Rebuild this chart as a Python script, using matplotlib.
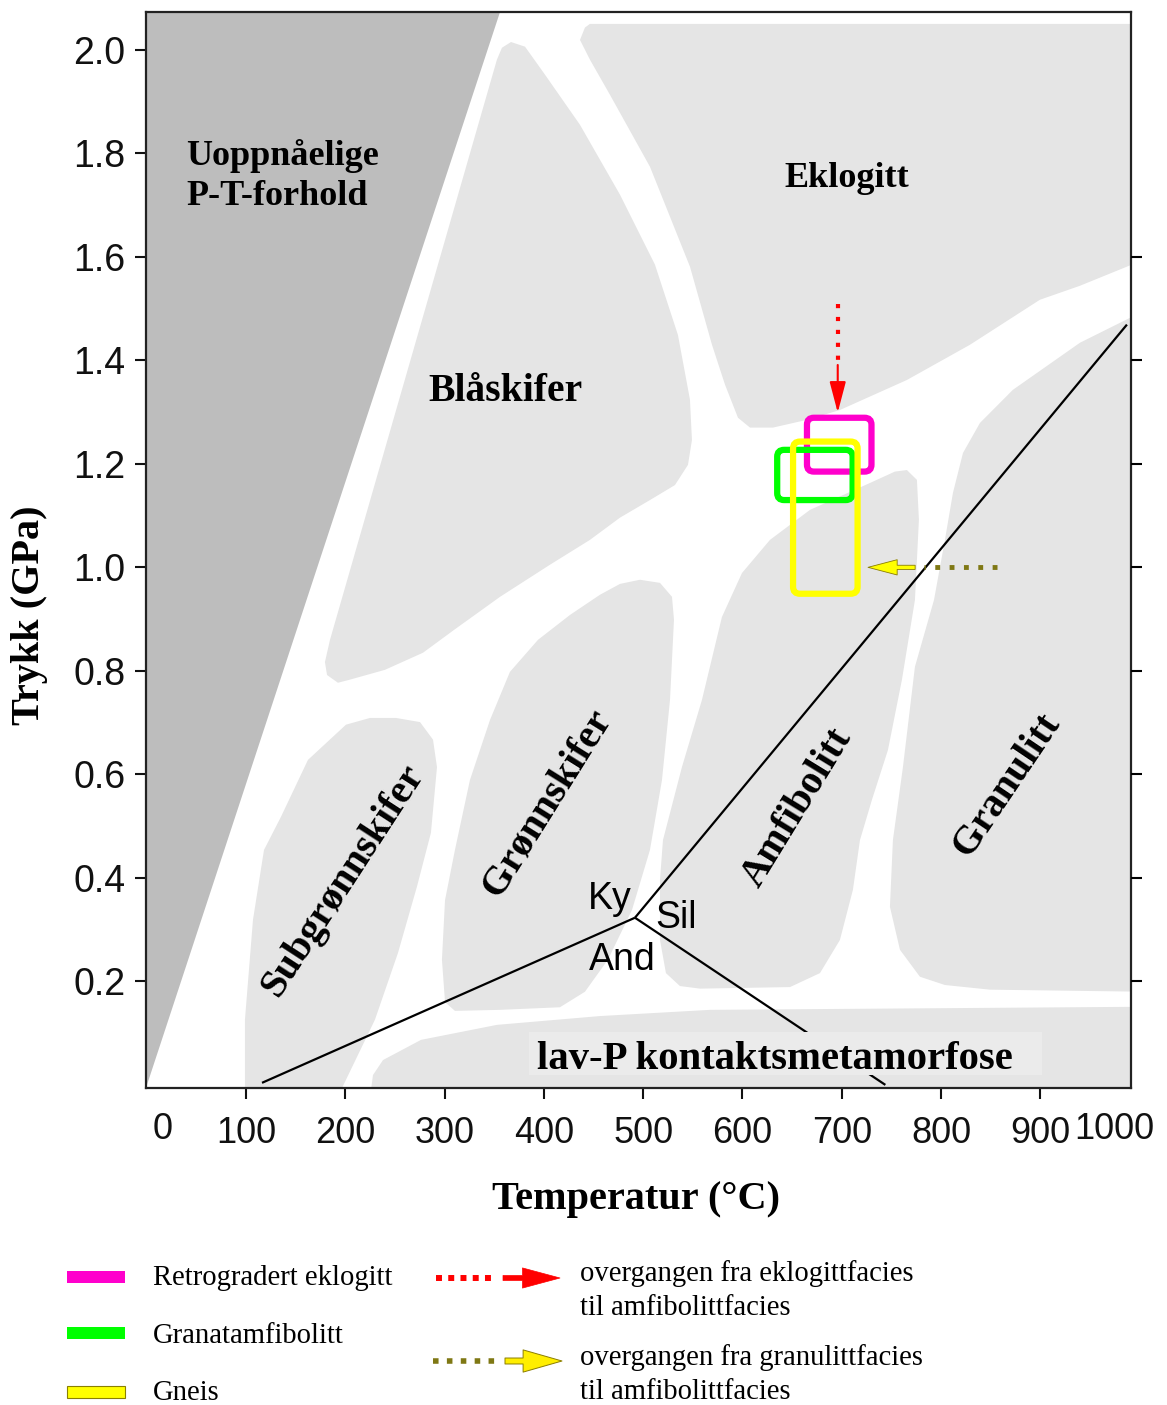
import matplotlib
matplotlib.use('Agg')
import matplotlib.pyplot as plt
from matplotlib.patches import Polygon, FancyBboxPatch, FancyArrowPatch, Rectangle, ArrowStyle

# ---- data (temperature in C, pressure in GPa) ----
temp_ticks = [100, 200, 300, 400, 500, 600, 700, 800, 900]
pressure_ticks = [0.2, 0.4, 0.6, 0.8, 1.0, 1.2, 1.4, 1.6, 1.8, 2.0]
right_ticks = [0.2, 0.4, 0.6, 0.8, 1.0, 1.2, 1.4, 1.6]

# unreachable P-T conditions (dark wedge)
uopp_T = [-10, 0, 360, -10]
uopp_P = [0.0, 0.0, 2.098, 2.098]

# facies fields (outlines)
blaskifer_T = [366.8, 380.9, 401.0, 436.3, 476.6, 511.8, 535.0, 547.1, 549.1, 545.1, 532.0, 506.8,
               476.6, 446.3, 406.0, 355.7, 309.3, 278.1, 239.8, 204.5, 192.4, 181.4, 179.3, 184.4, 352.6, 357.7]
blaskifer_P = [2.015, 2.006, 1.952, 1.855, 1.720, 1.585, 1.449, 1.324, 1.246, 1.198, 1.159, 1.130,
               1.096, 1.053, 1.005, 0.943, 0.879, 0.835, 0.802, 0.783, 0.777, 0.792, 0.817, 0.860, 1.981, 2.004]

eklogitt_T = [446.3, 1005, 1005, 990.0, 940.0, 899.7, 829.2, 765.7, 698.2, 665.0, 630.7, 607.6, 595.5,
              582.4, 569.3, 547.1, 506.8, 466.5, 446.3, 436.3, 441.3]
eklogitt_P = [2.050, 2.050, 1.600, 1.583, 1.544, 1.517, 1.430, 1.362, 1.304, 1.285, 1.270, 1.270, 1.289,
              1.353, 1.430, 1.581, 1.774, 1.913, 1.981, 2.019, 2.043]

granulitt_T = [1005, 1005, 849.4, 804.0, 778.8, 758.7, 748.6, 751.6, 761.7, 773.8, 793.0, 804.0,
               812.1, 822.2, 839.3, 872.5, 940.1, 990.4]
granulitt_P = [1.482, 0.180, 0.184, 0.193, 0.209, 0.261, 0.344, 0.473, 0.614, 0.808, 0.937, 1.053,
               1.144, 1.221, 1.279, 1.343, 1.434, 1.482]

amfibolitt_T = [765.7, 775.8, 777.8, 773.8, 760.7, 746.6, 730.5, 718.4, 711.3, 698.2, 678.1, 647.9,
                557.2, 537.0, 522.9, 516.9, 516.9, 519.9, 539.0, 559.2, 579.3, 599.5, 627.7, 668.0, 728.5, 753.6]
amfibolitt_P = [1.188, 1.169, 1.092, 0.937, 0.783, 0.647, 0.551, 0.473, 0.377, 0.280, 0.216, 0.189,
                0.186, 0.191, 0.216, 0.280, 0.396, 0.473, 0.614, 0.744, 0.904, 0.989, 1.053, 1.111, 1.163, 1.185]

gronnskifer_T = [496.7, 516.9, 529.0, 531.0, 527.0, 518.9, 506.8, 488.7, 464.5, 441.3, 416.1, 355.7,
                 310.3, 300.3, 297.2, 300.3, 310.3, 325.4, 345.6, 365.7, 394.0, 426.2, 456.4, 476.6]
gronnskifer_P = [0.976, 0.970, 0.943, 0.899, 0.744, 0.589, 0.454, 0.338, 0.242, 0.180, 0.150, 0.145,
                 0.143, 0.160, 0.242, 0.357, 0.454, 0.589, 0.705, 0.798, 0.860, 0.908, 0.947, 0.968]

subgronn_T = [250.9, 275.1, 288.2, 292.2, 286.1, 272.0, 252.9, 229.7, 195.5, 98.7, 98.7, 106.8,
              117.9, 135.0, 162.2, 200.5, 224.7]
subgronn_P = [0.709, 0.701, 0.667, 0.614, 0.487, 0.383, 0.255, 0.126, -0.01, -0.01, 0.126, 0.319,
              0.454, 0.518, 0.628, 0.696, 0.709]

lavp_T = [225.7, 227.7, 237.8, 276.1, 352.6, 456.4, 567.3, 1005, 1005]
lavp_P = [-0.01, 0.019, 0.048, 0.087, 0.116, 0.133, 0.145, 0.151, -0.01]

# Al2SiO5 triple point and reaction lines
triple = (491.7, 0.323)
ky_and_end = (115.9, 0.004)
ky_sil_end = (987.4, 1.469)
and_sil_end = (744.0, 0.0)

# sample P-T boxes
box_labels = ['Retrogradert eklogitt', 'Granatamfibolitt', 'Gneis']
box_colors = ['#ff00cc', '#00ff00', '#ffff00']
box_T0 = [665, 635, 651]
box_T1 = [730, 711, 716]
box_P0 = [1.185, 1.130, 0.949]
box_P1 = [1.289, 1.227, 1.243]

# transitions
ekl_T = 696
ekl_dots_P = [1.509, 1.400]
ekl_arrow_P = [1.391, 1.299]
gran_P = 1.0
gran_dots_T = [856.4, 782.9]
gran_arrow_T = [774.0, 726.5]

# ---- figure ----
W, H = 1167, 1405
fig = plt.figure(figsize=(W / 100, H / 100), dpi=100)
ax = fig.add_axes([146 / W, 1 - 1088 / H, 985 / W, 1076 / H])
ax.set_xlim(-1, 991.5)
ax.set_ylim(-0.006, 2.073)

dark = '#bdbdbd'
light = '#e5e5e5'

ax.add_patch(Polygon(list(zip(uopp_T, uopp_P)), closed=True, fc=dark, ec='none', zorder=1))
for tt, pp in [(blaskifer_T, blaskifer_P), (eklogitt_T, eklogitt_P), (granulitt_T, granulitt_P),
               (amfibolitt_T, amfibolitt_P), (gronnskifer_T, gronnskifer_P),
               (subgronn_T, subgronn_P), (lavp_T, lavp_P)]:
    ax.add_patch(Polygon(list(zip(tt, pp)), closed=True, fc=light, ec='none', zorder=1))

# reaction lines
for end in [ky_and_end, ky_sil_end, and_sil_end]:
    ax.plot([triple[0], end[0]], [triple[1], end[1]], color='black', lw=1.6, zorder=3,
            solid_capstyle='butt')

# region labels
serif = 'Liberation Serif'
sans = 'Liberation Sans'
ax.text(39.3, 1.756, 'Uoppnåelige\nP-T-forhold', fontsize=26, fontweight='bold', family=serif,
        ha='left', va='center', linespacing=1.3, zorder=5)
ax.text(705.3, 1.752, 'Eklogitt', fontsize=26, fontweight='bold', family=serif,
        ha='center', va='center', zorder=5)
ax.text(360.7, 1.339, 'Blåskifer', fontsize=28.5, fontweight='bold', family=serif,
        ha='center', va='center', zorder=5)
ax.text(197.5, 0.396, 'Subgrønnskifer', fontsize=29, fontweight='bold', family=serif,
        ha='center', va='center', rotation=57, zorder=5)
ax.text(403.0, 0.545, 'Grønnskifer', fontsize=29, fontweight='bold', family=serif,
        ha='center', va='center', rotation=58, zorder=5)
ax.text(654.9, 0.535, 'Amfibolitt', fontsize=29, fontweight='bold', family=serif,
        ha='center', va='center', rotation=58.5, zorder=5)
ax.text(866.5, 0.580, 'Granulitt', fontsize=29, fontweight='bold', family=serif,
        ha='center', va='center', rotation=56, zorder=5)
ax.add_patch(Rectangle((385, 0.019), 517, 0.083, fc='#ebebeb', ec='none', zorder=4))
ax.text(632.7, 0.049, 'lav-P kontaktsmetamorfose', fontsize=29.3, fontweight='bold', family=serif,
        ha='center', va='center', zorder=5)
ax.text(466.5, 0.360, 'Ky', fontsize=27, family=sans, ha='center', va='center', zorder=5)
ax.text(533.0, 0.322, 'Sil', fontsize=27, family=sans, ha='center', va='center', zorder=5)
ax.text(478.6, 0.241, 'And', fontsize=27, family=sans, ha='center', va='center', zorder=5)

# sample boxes
asp = 0.9925 / 517.5
for t0, t1, p0, p1, c in zip(box_T0, box_T1, box_P0, box_P1, box_colors):
    ax.add_patch(FancyBboxPatch((t0, p0), t1 - t0, p1 - p0,
                                boxstyle='round,pad=0,rounding_size=7', mutation_aspect=asp,
                                fc='none', ec=c, lw=4.5, zorder=6))

# eclogite -> amphibolite transition arrow
ax.plot([ekl_T, ekl_T], ekl_dots_P, color='red', lw=3, ls=(0, (1, 2.1)), zorder=7)
ax.add_patch(FancyArrowPatch((ekl_T, ekl_arrow_P[0]), (ekl_T, ekl_arrow_P[1]),
                             arrowstyle=ArrowStyle('-|>', head_length=19, head_width=5),
                             mutation_scale=1, color='red', lw=1.5, shrinkA=0, shrinkB=0, zorder=7))

# granulite -> amphibolite transition arrow
ax.plot(gran_dots_T, [gran_P, gran_P], color='#7f7814', lw=3.5, ls=(0, (1, 1.95)), zorder=7)
ax.add_patch(FancyArrowPatch((gran_arrow_T[0], gran_P), (gran_arrow_T[1], gran_P),
                             arrowstyle=ArrowStyle('Simple', head_length=21, head_width=11, tail_width=3),
                             mutation_scale=1, fc='#ffff00', ec='#8a7d00', lw=0.6,
                             shrinkA=0, shrinkB=0, zorder=7))

# axes styling
for s in ax.spines.values():
    s.set_linewidth(1.6)
    s.set_color('#222222')
ax.set_xticks(temp_ticks)
ax.set_xticklabels([str(t) for t in temp_ticks])
ax.set_yticks(pressure_ticks)
ax.set_yticklabels(['%.1f' % p for p in pressure_ticks])
ax.tick_params(axis='both', direction='out', length=8, width=1.5, colors='#111111')
ax.tick_params(axis='x', pad=12, labelsize=26)
ax.tick_params(axis='y', pad=7, labelsize=27)
for lab in ax.get_xticklabels() + ax.get_yticklabels():
    lab.set_family(sans)
ax.text(16, -0.039, '0', transform=ax.get_xaxis_transform(), fontsize=26, family=sans,
        ha='center', va='center', color='#111111')
ax.text(975, -0.039, '1000', transform=ax.get_xaxis_transform(), fontsize=26, family=sans,
        ha='center', va='center', color='#111111')

ax2 = ax.twinx()
ax2.set_ylim(ax.get_ylim())
ax2.set_yticks(right_ticks)
ax2.set_yticklabels([])
ax2.tick_params(axis='y', direction='out', length=8, width=1.5)
for s in ax2.spines.values():
    s.set_visible(False)

ax.set_xlabel('Temperatur (°C)', fontsize=29, fontweight='bold', family=serif)
ax.set_ylabel('Trykk (GPa)', fontsize=29, fontweight='bold', family=serif)
ax.xaxis.set_label_coords((636 - 146) / 985, -(1200 - 1088) / 1076)
ax.xaxis.label.set_va('center')
ax.yaxis.set_label_coords((30 - 146) / 985, (1088 - 615) / 1076)
ax.yaxis.label.set_va('center')

# ---- legend below the plot (pixel coordinates) ----
lg = fig.add_axes([0, 0, 1, 1])
lg.set_xlim(0, W)
lg.set_ylim(H, 0)
lg.axis('off')

swatch_y = [1277, 1333, 1392]
text_y = [1278, 1336, 1393]
for y, ty, c, lab in zip(swatch_y, text_y, box_colors, box_labels):
    ec = '#8a8000' if c == '#ffff00' else 'none'
    lg.add_patch(Rectangle((67, y - 6), 58, 12, fc=c, ec=ec, lw=0.8))
    lg.text(153, ty, lab, fontsize=20.6, family=serif, ha='left', va='center')

lg.plot([436, 492], [1278, 1278], color='red', lw=4.3, ls=(0, (1, 1.05)))
lg.add_patch(FancyArrowPatch((503, 1278), (560, 1278),
                             arrowstyle=ArrowStyle('Simple', head_length=27, head_width=14.5, tail_width=3.6),
                             mutation_scale=1, fc='red', ec='red', lw=0.5, shrinkA=0, shrinkB=0))
lg.plot([433, 496], [1361, 1361], color='#7f7814', lw=4.0, ls=(0, (1, 1.5)))
lg.add_patch(FancyArrowPatch((505, 1361), (562, 1361),
                             arrowstyle=ArrowStyle('Simple', head_length=28, head_width=16, tail_width=4.3),
                             mutation_scale=1, fc='#ffee00', ec='#8a7d00', lw=0.7, shrinkA=0, shrinkB=0))

lg.text(580, 1274, 'overgangen fra eklogittfacies', fontsize=20.6, family=serif, ha='left', va='center')
lg.text(580, 1308, 'til amfibolittfacies', fontsize=20.6, family=serif, ha='left', va='center')
lg.text(580, 1358, 'overgangen fra granulittfacies', fontsize=20.6, family=serif, ha='left', va='center')
lg.text(580, 1392, 'til amfibolittfacies', fontsize=20.6, family=serif, ha='left', va='center')

fig.savefig('out.png', dpi=100)
